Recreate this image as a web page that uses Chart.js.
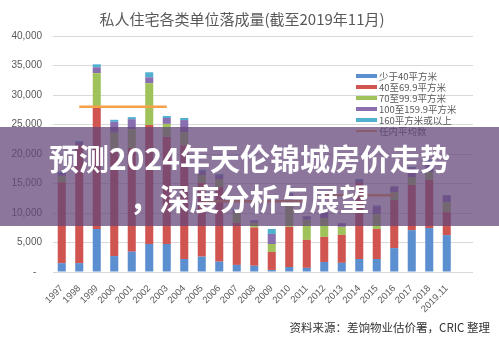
<!DOCTYPE html>
<html><head><meta charset="utf-8">
<script src="https://cdn.jsdelivr.net/npm/chart.js@4/dist/chart.umd.min.js"></script>
<style>
html,body{margin:0;padding:0;background:#fff;}
#wrap{position:relative;width:499px;height:355px;overflow:hidden;background:#fff;}
canvas{position:absolute;left:0;top:0;}
#title{position:absolute;left:0;width:484px;top:8px;text-align:center;font:15px "Noto Sans CJK SC";color:#595959;white-space:nowrap;}
#band{position:absolute;left:0;top:127px;width:499px;height:99px;background:rgba(100,70,122,0.74);}
#headline{position:absolute;left:0;width:499px;top:137px;text-align:center;color:#fff;font:bold 30px/40px "Noto Sans CJK SC";white-space:nowrap;}
#source{position:absolute;right:9px;top:319px;font:11.5px "Noto Sans CJK SC";color:#333;white-space:nowrap;}
</style></head>
<body>
<div id="wrap">
<canvas id="c" width="499" height="355"></canvas>
<div id="title">私人住宅各类单位落成量(截至2019年11月)</div>
<div id="band"></div>
<div id="headline">预测2024年天伦锦城房价走势<br>，深度分析与展望</div>
<div id="source">资料来源：差饷物业估价署，CRIC 整理</div>
</div>
<script>
const categories = ['1997','1998','1999','2000','2001','2002','2003','2004','2005','2006','2007','2008','2009','2010','2011','2012','2013','2014','2015','2016','2017','2018','2019.11',''];
const seriesNames = ['少于40平方米','40至69.9平方米','70至99.9平方米','100至159.9平方米','160平方米或以上'];
const lineName = '任内平均数';
const under40   = [1500,1500,7300,2700,3450,4750,4750,2200,2600,1750,1200,1050,350,850,700,1700,1550,2200,2200,4050,7100,7450,6250];
const s40to69   = [13700,20000,20500,18000,17550,20150,18150,19300,12500,12650,7100,6500,3050,6800,4750,4250,4750,12900,5100,8150,7650,8150,3900];
const s70to99   = [1100,0,5900,2900,3200,7100,2200,2200,1350,1350,1700,800,1350,4050,3400,3200,1350,0,2500,1350,1350,1350,1700];
const s100to159 = [500,500,1000,1850,1700,1000,1000,2050,650,680,500,350,1700,1500,550,950,600,500,1300,900,1500,1800,1100];
const s160plus  = [200,200,500,350,350,850,350,350,200,170,180,100,850,200,100,70,80,170,200,100,200,300,100];
const avgTerm1  = [null,28000,28000,28000,28000,28000,28000];
const avgTerm2  = [null,null,null,null,null,null,null,null,12000,12000,12000,12000,12000,12000,12000];
const avgTerm3  = [null,null,null,null,null,null,null,null,null,null,null,null,null,null,null,13000,13000,13000,13000,13000];
const yTicks = [0,5000,10000,15000,20000,25000,30000,35000,40000];

const colors = ['#5b8fcf','#d05550','#9fc35a','#8a6fb0','#4fb0d0'];
const lineColor = '#f5a04a';
const barSeries = [under40,s40to69,s70to99,s100to159,s160plus];

const datasets = barSeries.map((d,i)=>({
  type:'bar', label:seriesNames[i], data:d, backgroundColor:colors[i],
  stack:'bars', order:1, categoryPercentage:1, barPercentage:0.46
}));
[avgTerm1,avgTerm2,avgTerm3].forEach((d,i)=>datasets.push({
  type:'line', label:lineName, data:d, borderColor:lineColor, borderWidth:2.5,
  pointRadius:0, stack:'avg'+i, order:0, spanGaps:false, fill:false
}));

const legendPlugin = {
  id:'customLegend',
  afterDatasetsDraw(chart){
    const ctx = chart.ctx;
    ctx.save();
    ctx.font = '9.5px "Noto Sans CJK SC"';
    ctx.textBaseline = 'middle';
    const items = [];
    chart.data.datasets.forEach(ds=>{
      if(ds.type==='bar') items.push({label:ds.label,color:ds.backgroundColor,line:false});
    });
    const ln = chart.data.datasets.find(ds=>ds.type==='line');
    items.push({label:ln.label,color:ln.borderColor,line:true});
    items.forEach((it,i)=>{
      const y = 76 + i*11;
      if(it.line){
        ctx.strokeStyle = it.color; ctx.lineWidth = 2;
        ctx.beginPath(); ctx.moveTo(356,y); ctx.lineTo(377,y); ctx.stroke();
      } else {
        ctx.fillStyle = it.color; ctx.fillRect(356,y-2,21,4);
      }
      ctx.fillStyle = '#595959';
      ctx.fillText(it.label,379,y);
    });
    ctx.restore();
  }
};

new Chart(document.getElementById('c'),{
  data:{labels:categories,datasets:datasets},
  options:{
    responsive:false, animation:false, devicePixelRatio:1,
    layout:{padding:{top:36,right:26,bottom:0,left:0}},
    plugins:{legend:{display:false},title:{display:false},tooltip:{enabled:false}},
    scales:{
      x:{
        stacked:true, offset:true,
        grid:{display:false}, border:{display:false},
        ticks:{autoSkip:false,maxRotation:45,minRotation:45,padding:3,color:'#595959',font:{family:'"Liberation Sans"',size:9.5}},
        afterFit(s){s.height=83;}
      },
      y:{
        stacked:true, min:0, max:40000,
        afterBuildTicks(s){s.ticks = yTicks.map(v=>({value:v}));},
        grid:{color:'#d9d9d9',drawTicks:false,lineWidth:1}, border:{display:false},
        ticks:{padding:11,color:'#595959',font:{family:'"Liberation Sans"',size:10},
          callback:(v)=> v===0 ? '-  ' : v.toLocaleString('en-US')},
        afterFit(s){s.width=53;}
      }
    }
  },
  plugins:[legendPlugin]
});
</script>
</body></html>
